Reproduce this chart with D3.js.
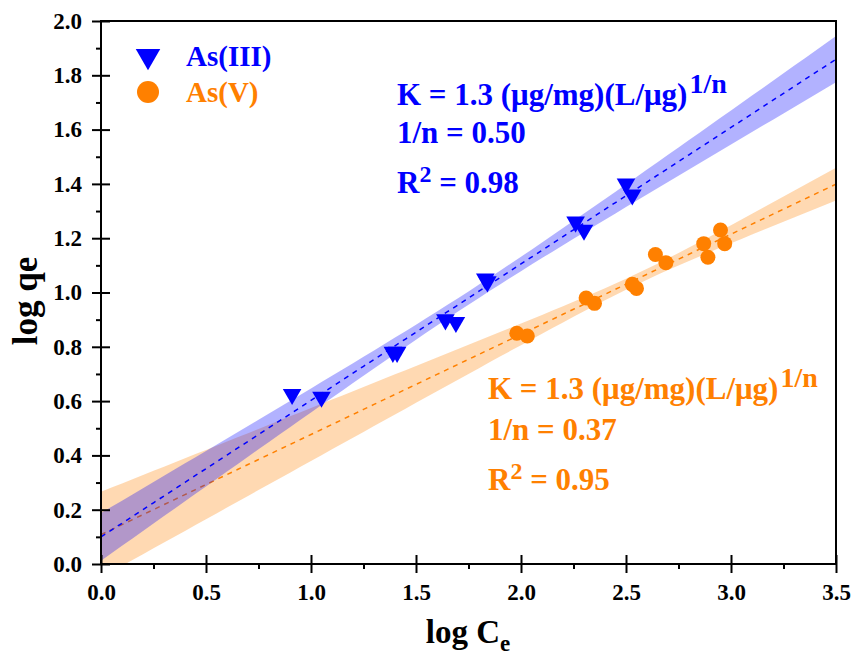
<!DOCTYPE html>
<html>
<head>
<meta charset="utf-8">
<script src="https://cdn.jsdelivr.net/npm/d3@7"></script>
<style>
  body { margin: 0; background: #fff; }
  text { font-family: "Liberation Serif", "Times New Roman", serif; font-weight: bold; }
</style>
</head>
<body>
<div id="main"></div>
<script>
// As(III) points (log Ce, log qe)
var as3X = [0.91, 1.05, 1.39, 1.41, 1.64, 1.69, 1.83, 1.84, 2.26, 2.30, 2.50, 2.53];
var as3Y = [0.625, 0.615, 0.78, 0.78, 0.90, 0.89, 1.05, 1.04, 1.26, 1.23, 1.40, 1.36];
// As(V) points
var as5X = [1.98, 2.03, 2.31, 2.35, 2.53, 2.55, 2.64, 2.69, 2.87, 2.89, 2.95, 2.97];
var as5Y = [0.85, 0.84, 0.98, 0.96, 1.03, 1.015, 1.14, 1.11, 1.18, 1.13, 1.23, 1.18];

var xTicks = [0, 0.5, 1.0, 1.5, 2.0, 2.5, 3.0, 3.5];
var xMinor = [0.25, 0.75, 1.25, 1.75, 2.25, 2.75, 3.25];
var yTicks = [0, 0.2, 0.4, 0.6, 0.8, 1.0, 1.2, 1.4, 1.6, 1.8, 2.0];
var yMinor = [0.1, 0.3, 0.5, 0.7, 0.9, 1.1, 1.3, 1.5, 1.7, 1.9];

var seriesNames = ['As(III)', 'As(V)'];
var blue = '#0000ff', orange = '#ff8000';

var width = 855, height = 656;
var svg = d3.select('#main').append('svg')
  .attr('width', width)
  .attr('height', height);

var x = d3.scaleLinear().domain([0, 3.5]).range([101, 836]);
var y = d3.scaleLinear().domain([0, 2.0]).range([564, 21]);

// linear fit with 95% confidence band
function fit(xs, ys) {
  var n = xs.length;
  var mx = d3.mean(xs), my = d3.mean(ys);
  var sxx = 0, sxy = 0;
  for (var i = 0; i < n; i++) {
    sxx += (xs[i] - mx) * (xs[i] - mx);
    sxy += (xs[i] - mx) * (ys[i] - my);
  }
  var b = sxy / sxx, a = my - b * mx;
  var sse = 0;
  for (var j = 0; j < n; j++) {
    var r = ys[j] - (a + b * xs[j]);
    sse += r * r;
  }
  var s = Math.sqrt(sse / (n - 2));
  var t = 2.228;
  var pts = d3.range(0, 3.5001, 0.05).map(function(v) {
    var yh = a + b * v;
    var hw = t * s * Math.sqrt(1 / n + (v - mx) * (v - mx) / sxx);
    return { x: v, y: yh, lo: yh - hw, hi: yh + hw };
  });
  return pts;
}

var fit3 = fit(as3X, as3Y);
var fit5 = fit(as5X, as5Y);

var clip = svg.append('clipPath').attr('id', 'plotclip')
  .append('rect')
  .attr('x', x(0)).attr('y', y(2))
  .attr('width', x(3.5) - x(0)).attr('height', y(0) - y(2));

var area = d3.area()
  .x(function(d) { return x(d.x); })
  .y0(function(d) { return y(d.lo); })
  .y1(function(d) { return y(d.hi); });

var line = d3.line()
  .x(function(d) { return x(d.x); })
  .y(function(d) { return y(d.y); });

var plot = svg.append('g').attr('clip-path', 'url(#plotclip)');

plot.append('path').datum(fit5).attr('d', area)
  .attr('fill', orange).attr('fill-opacity', 0.3);
plot.append('path').datum(fit5).attr('d', line)
  .attr('fill', 'none').attr('stroke', orange).attr('stroke-width', 1.5)
  .attr('stroke-dasharray', '5,5');
plot.append('path').datum(fit3).attr('d', area)
  .attr('fill', blue).attr('fill-opacity', 0.3);
plot.append('path').datum(fit3).attr('d', line)
  .attr('fill', 'none').attr('stroke', blue).attr('stroke-width', 1.5)
  .attr('stroke-dasharray', '5,5');

var tri = d3.symbol().type(d3.symbolTriangle).size(150);
var triBig = d3.symbol().type(d3.symbolTriangle).size(260);

svg.append('g').selectAll('path')
  .data(as3X)
  .enter()
  .append('path')
  .attr('d', tri)
  .attr('transform', function(d, i) {
    return 'translate(' + x(d) + ',' + y(as3Y[i]) + ') rotate(180)';
  })
  .attr('fill', blue);

svg.append('g').selectAll('circle')
  .data(as5X)
  .enter()
  .append('circle')
  .attr('cx', function(d) { return x(d); })
  .attr('cy', function(d, i) { return y(as5Y[i]); })
  .attr('r', 7.5)
  .attr('fill', orange);

// axes
var fmt = d3.format('.1f');
var xAxis = svg.append('g').attr('transform', 'translate(0,' + y(0) + ')');
xAxis.call(d3.axisBottom(x).tickValues(xTicks).tickFormat(fmt).tickSize(9).tickPadding(11));
xAxis.append('g').call(d3.axisBottom(x).tickValues(xTicks).tickFormat('').tickSize(-9));
xAxis.append('g').call(d3.axisBottom(x).tickValues(xMinor).tickFormat('').tickSize(5));

var yAxis = svg.append('g').attr('transform', 'translate(' + x(0) + ',0)');
yAxis.call(d3.axisLeft(y).tickValues(yTicks).tickFormat(fmt).tickSize(9).tickPadding(10));
yAxis.append('g').call(d3.axisLeft(y).tickValues(yTicks).tickFormat('').tickSize(-9));
yAxis.append('g').call(d3.axisLeft(y).tickValues(yMinor).tickFormat('').tickSize(5));

svg.selectAll('.domain').remove();
svg.selectAll('.tick line').attr('stroke', '#000').attr('stroke-width', 2);
svg.selectAll('.tick text')
  .attr('fill', '#000')
  .style('font-size', '23px')
  .style('font-family', '"Liberation Serif", serif')
  .style('font-weight', 'bold');

svg.append('rect')
  .attr('x', x(0)).attr('y', y(2))
  .attr('width', x(3.5) - x(0)).attr('height', y(0) - y(2))
  .attr('fill', 'none').attr('stroke', '#000').attr('stroke-width', 2);

// axis titles
var xt = svg.append('text')
  .attr('x', 468).attr('y', 643)
  .attr('text-anchor', 'middle')
  .style('font-size', '33px');
xt.append('tspan').text('log C');
xt.append('tspan').attr('dy', 8).style('font-size', '23px').text('e');

svg.append('text')
  .attr('transform', 'translate(37,301) rotate(-90)')
  .attr('text-anchor', 'middle')
  .style('font-size', '35px')
  .text('log qe');

// legend
svg.append('path')
  .attr('d', triBig)
  .attr('transform', 'translate(148,56) rotate(180)')
  .attr('fill', blue);
svg.append('circle')
  .attr('cx', 148).attr('cy', 92).attr('r', 11)
  .attr('fill', orange);
svg.append('text').attr('x', 186).attr('y', 66)
  .attr('fill', blue).style('font-size', '29px').text(seriesNames[0]);
svg.append('text').attr('x', 186).attr('y', 102)
  .attr('fill', orange).style('font-size', '29px').text(seriesNames[1]);

// annotations
function annotate(x0, ys, color, slope, r2) {
  var t1 = svg.append('text').attr('x', x0).attr('y', ys[0])
    .attr('fill', color).style('font-size', '31px');
  t1.append('tspan').text('K = 1.3 (\u03bcg/mg)(L/\u03bcg)');
  t1.append('tspan').attr('dy', -12).attr('dx', 2).style('font-size', '28px').text('1/n');

  svg.append('text').attr('x', x0).attr('y', ys[1])
    .attr('fill', color).style('font-size', '31px')
    .text('1/n = ' + slope);

  var t3 = svg.append('text').attr('x', x0).attr('y', ys[2])
    .attr('fill', color).style('font-size', '31px');
  t3.append('tspan').text('R');
  t3.append('tspan').attr('dy', -11).style('font-size', '24px').text('2');
  t3.append('tspan').attr('dy', 11).text(' = ' + r2);
}

annotate(397, [105, 143, 193], blue, '0.50', '0.98');
annotate(488, [399, 440, 490], orange, '0.37', '0.95');
</script>
</body>
</html>
